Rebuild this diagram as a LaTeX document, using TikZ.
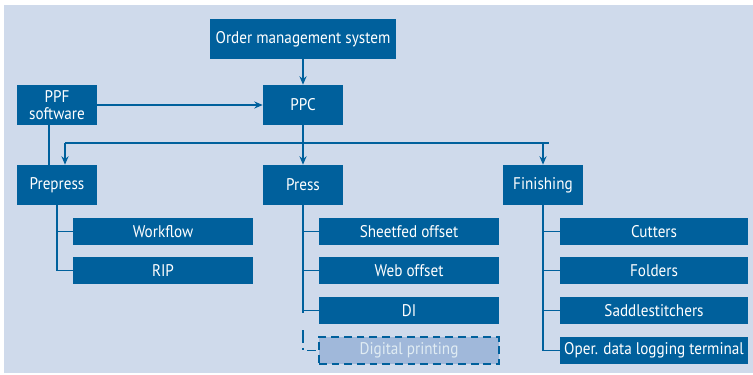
\documentclass[tikz,border=0pt]{standalone}
\usepackage{fontspec}
\newfontfamily\boxfont{PT Sans}[FakeStretch=0.9]
\usetikzlibrary{arrows.meta}
\definecolor{panelblue}{HTML}{CFDAEB}
\definecolor{boxblue}{HTML}{00609C}
\definecolor{dimblue}{HTML}{A0B8DA}
\tikzset{>/.tip={Stealth[length=6pt,width=5pt]},
  box/.style={fill=boxblue, text=white, minimum width=2cm, minimum height=1cm,
    inner sep=0pt, align=center, font=\boxfont\fontsize{12}{12}\selectfont},
  subbox/.style={box, minimum height=0.675cm},
  link/.style={draw=boxblue, line width=1.3pt}}

\begin{document}
\begin{tikzpicture}
\useasboundingbox (0,0) rectangle (18.825,-9.35);
\fill[panelblue] (0.1,-0.125) rectangle (18.825,-9.325);

\node[box, minimum width=4.65cm] (OMS) at (7.575,-0.975) {Order management system};
\node[box] (PPF) at (1.425,-2.625) {PPF\\software};
\node[box] (PPC) at (7.575,-2.625) {PPC};
\node[box] (Prepress) at (1.425,-4.625) {Prepress};
\node[box] (Press) at (7.575,-4.625) {Press};
\node[box] (Finishing) at (13.575,-4.625) {Finishing};

\node[subbox, minimum width=4.5cm] (Workflow) at (4.075,-5.7875) {Workflow};
\node[subbox, minimum width=4.5cm] (RIP) at (4.075,-6.7625) {RIP};

\node[subbox, minimum width=4.5cm] (Sheetfed) at (10.225,-5.7875) {Sheetfed offset};
\node[subbox, minimum width=4.5cm] (Web) at (10.225,-6.7625) {Web offset};
\node[subbox, minimum width=4.5cm] (DI) at (10.225,-7.7625) {DI};
\node[subbox, minimum width=4.5cm, fill=dimblue, text=white!88!boxblue,
  draw=boxblue, line width=1.3pt, dash pattern=on 5.5pt off 3.5pt]
  (Digital) at (10.225,-8.7625) {Digital printing};

\node[subbox, minimum width=4.7cm] (Cutters) at (16.35,-5.7875) {Cutters};
\node[subbox, minimum width=4.7cm] (Folders) at (16.35,-6.7625) {Folders};
\node[subbox, minimum width=4.7cm] (Saddle) at (16.35,-7.7625) {Saddlestitchers};
\node[subbox, minimum width=4.7cm] (Oper) at (16.35,-8.7625) {Oper. data logging terminal};

% feeds into PPC
\draw[link,->] (OMS) -- (PPC);
\draw[link,->] (PPF) -- (PPC);
\draw[link] ([xshift=-0.2cm]PPF.south) -- ([xshift=-0.2cm]Prepress.north);

% distribution bus
\coordinate (BusL) at (1.625,-3.575);
\coordinate (BusR) at (13.725,-3.575);
\draw[link] (BusL) -- (BusR);
\draw[link,->] (BusL) -- ([xshift=0.2cm]Prepress.north);
\draw[link,->] (PPC) -- (Press);
\draw[link,->] (Finishing.north |- BusR) -- (Finishing);

% prepress tree
\draw[link] (Prepress.south) |- (RIP.west);
\draw[link] (Prepress.south |- Workflow) -- (Workflow.west);

% press tree
\draw[link] (Press.south) -- (Press.south |- DI);
\draw[link] (Press.south |- Sheetfed) -- (Sheetfed.west);
\draw[link] (Press.south |- Web) -- (Web.west);
\draw[link] (Press.south |- DI) -- (DI.west);
\draw[link, dash pattern=on 2pt off 12pt on 9pt off 3.5pt on 1.5pt off 3.5pt on 6.5pt off 10pt]
  (Press.south |- DI) |- (Digital.west);

% finishing tree
\draw[link] (Finishing.south) |- (Oper.west);
\foreach \n in {Cutters,Folders,Saddle}
  \draw[link] (Finishing.south |- \n) -- (\n.west);
\end{tikzpicture}
\end{document}
